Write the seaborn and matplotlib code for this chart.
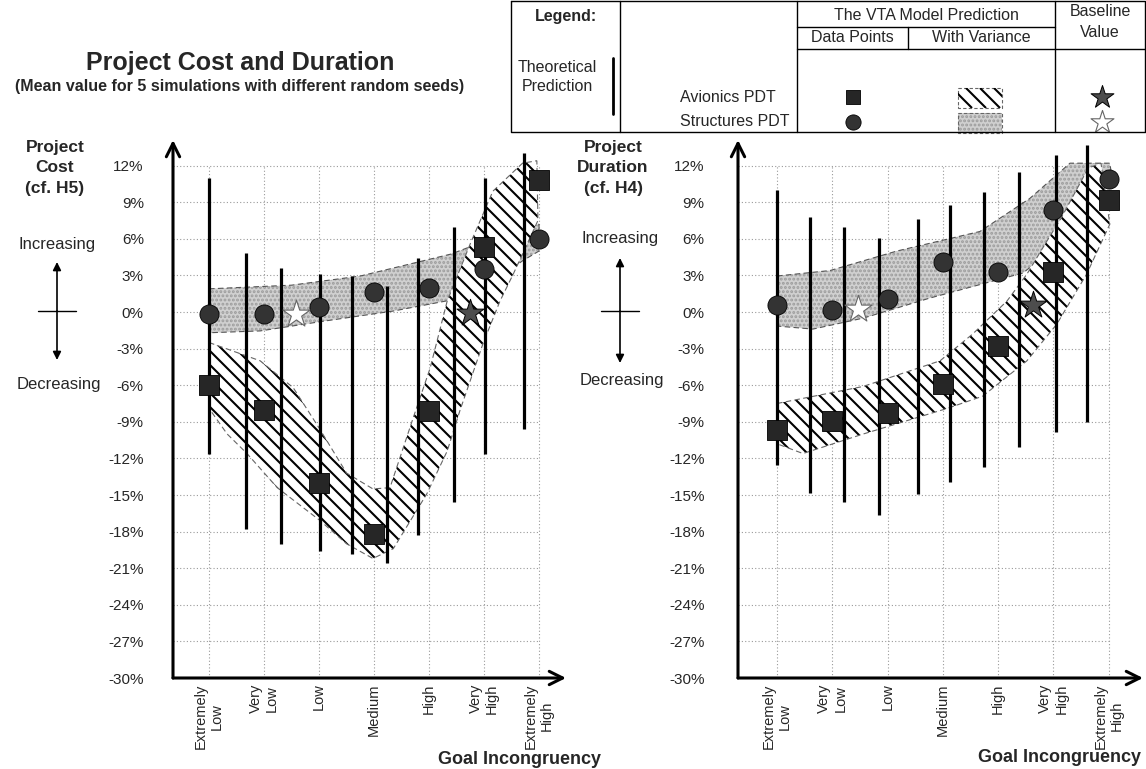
import numpy as np
import matplotlib
matplotlib.use('Agg')
import matplotlib.pyplot as plt
import seaborn as sns
from matplotlib.collections import LineCollection

W, H = 1146, 769

levels = ['Extremely\nLow', 'Very\nLow', 'Low', 'Medium', 'High', 'Very\nHigh', 'Extremely\nHigh']
level_pos = [0, 1, 2, 3, 4, 5, 6]
y_ticks = list(range(-30, 13, 3))

# ---- Project cost (cf. H5) ----
cost_avionics = [-6.0, -8.0, -14.0, -18.2, -8.1, 5.3, 10.8]
cost_structures = [-0.2, -0.2, 0.4, 1.6, 2.0, 3.5, 6.0]
cost_base_avionics = (4.75, -0.1)
cost_base_structures = (1.58, -0.2)

cost_theory_x = [0, 0.67, 1.31, 2.02, 2.6, 3.24, 3.8, 4.45, 5.02, 5.73]
cost_theory_top = [11.0, 4.8, 3.6, 3.1, 2.95, 2.1, 4.4, 7.0, 11.0, 13.0]
cost_theory_bottom = [-11.6, -17.8, -19.0, -19.6, -19.8, -20.6, -18.3, -15.6, -11.6, -9.6]

cost_av_up_x = [0, 0.93, 1.53, 2.0, 2.5, 2.98, 3.29, 3.71, 4.02, 4.33, 4.75, 5.16, 5.7, 5.96]
cost_av_up_y = [-2.5, -4.0, -6.2, -9.5, -13.2, -14.5, -14.4, -8.7, -4.6, 0.9, 5.6, 9.9, 12.2, 12.4]
cost_av_lo_x = [0, 0.33, 0.69, 1.24, 2.02, 2.5, 2.98, 3.35, 3.96, 4.33, 4.56, 4.98, 5.29, 5.53, 5.98]
cost_av_lo_y = [-7.9, -10.0, -11.6, -14.4, -17.1, -19.0, -20.2, -19.4, -14.9, -11.4, -8.1, -2.6, 0.9, 3.1, 7.5]

cost_st_up_x = [0, 1.5, 2.75, 4.4, 5.3, 6.0]
cost_st_up_y = [1.9, 2.2, 2.95, 4.75, 6.3, 7.2]
cost_st_lo_x = [0, 0.93, 2.1, 3.35, 4.4, 5.2, 5.7, 6.0]
cost_st_lo_y = [-1.7, -1.55, -0.74, 0.08, 0.98, 2.5, 4.2, 5.0]

# ---- Project duration (cf. H4) ----
dur_avionics = [-9.7, -8.9, -8.3, -5.9, -2.8, 3.3, 9.2]
dur_structures = [0.6, 0.2, 1.1, 4.1, 3.3, 8.4, 10.9]
dur_base_avionics = (4.63, 0.6)
dur_base_structures = (1.46, 0.25)

dur_theory_x = [0, 0.6, 1.21, 1.84, 2.55, 3.13, 3.74, 4.37, 5.04, 5.6]
dur_theory_top = [10.0, 7.8, 7.0, 6.1, 7.6, 8.8, 9.8, 11.5, 12.9, 13.7]
dur_theory_bottom = [-12.5, -14.8, -15.6, -16.6, -14.9, -13.9, -12.7, -11.1, -9.8, -9.0]

dur_av_up_x = [0, 1.56, 2.95, 3.54, 4.16, 4.52, 4.88, 5.14, 5.63, 5.86]
dur_av_up_y = [-7.5, -6.1, -4.0, -1.8, 0.9, 3.1, 5.8, 7.7, 11.8, 12.2]
dur_av_lo_x = [0, 0.47, 1.56, 3.08, 3.72, 4.52, 5.06, 5.6, 6.02]
dur_av_lo_y = [-10.8, -11.6, -10.0, -7.9, -6.9, -4.0, -1.0, 3.1, 7.2]

dur_st_up_x = [0, 0.96, 2.17, 3.67, 4.57, 5.3, 6.02]
dur_st_up_y = [2.95, 3.4, 5.0, 6.6, 9.3, 12.2, 12.2]
dur_st_lo_x = [0, 0.65, 1.56, 2.77, 4.45, 5.17, 5.78, 6.05]
dur_st_lo_y = [-1.15, -1.4, -0.5, 1.15, 3.2, 5.8, 9.7, 11.3]

sns.set_theme(style='white')
plt.rcParams['font.family'] = ['Liberation Sans', 'DejaVu Sans']
plt.rcParams['hatch.linewidth'] = 1.4

GRID = '#9a9a9a'
SQ = '#262626'
CI = '#333333'
STIPPLE = '#d0d0d0'
HATCH_STEP = 14  # pixels between hatch lines


def band(ax, ux, uy, lx, ly, **kw):
    xs = np.r_[ux, lx[::-1]]
    ys = np.r_[uy, ly[::-1]]
    return ax.fill(xs, ys, **kw)


def diag_hatch(ax, patch, step_px, lw=1.5, zorder=2.2):
    # "\" lines drawn in axes fraction, clipped to the band
    pos = ax.get_position()
    wpx, hpx = pos.width * W, pos.height * H
    r = wpx / hpx
    segs = [[(0, c), (1, c - r)] for c in np.arange(0, 1 + r, step_px / hpx)]
    lc = LineCollection(segs, transform=ax.transAxes, colors='black', linewidths=lw, zorder=zorder)
    ax.add_collection(lc, autolim=False)
    lc.set_clip_path(patch)


def draw_panel(ax, xlim, th_x, th_top, th_bot, av, st, av_band, st_band, base_av, base_st, pad):
    ax.set_xlim(*xlim)
    ax.set_ylim(-30, 14.1)
    for s in ax.spines.values():
        s.set_visible(False)

    # dotted grid, only over the category range
    ax.hlines(y_ticks, xlim[0], 6, colors=GRID, linestyles=(0, (1, 2)), linewidth=0.8, zorder=0)
    ax.vlines(level_pos, -30, 12, colors=GRID, linestyles=(0, (1, 2)), linewidth=0.8, zorder=0)

    # variance bands
    band(ax, *st_band, facecolor=STIPPLE, edgecolor='#9c9c9c', hatch='....', linewidth=0, zorder=1)
    band(ax, *st_band, fill=False, edgecolor='#555555', linestyle=(0, (5, 3)), linewidth=0.8, zorder=1.5)
    patch = band(ax, *av_band, facecolor='white', linewidth=0, zorder=2)[0]
    diag_hatch(ax, patch, HATCH_STEP)
    band(ax, *av_band, fill=False, edgecolor='#666666', linestyle=(0, (5, 3)), linewidth=0.8, zorder=2.5)

    # theoretical prediction ranges
    ax.vlines(th_x, th_bot, th_top, colors='black', linewidth=2.3, zorder=3)

    # VTA model data points
    sns.scatterplot(x=level_pos, y=av, marker='s', s=190, color=SQ, edgecolor='black',
                    linewidth=0.6, ax=ax, zorder=5, legend=False)
    sns.scatterplot(x=level_pos, y=st, marker='o', s=190, color=CI, edgecolor='black',
                    linewidth=0.6, ax=ax, zorder=5, legend=False)

    # baseline values
    ax.scatter([base_av[0]], [base_av[1]], marker='*', s=420, color='#4d4d4d',
               edgecolor='black', linewidth=0.7, zorder=6)
    ax.scatter([base_st[0]], [base_st[1]], marker='*', s=420, color='white',
               edgecolor='#666666', linewidth=0.8, zorder=6)

    ax.set_yticks(y_ticks)
    ax.set_yticklabels([f'{v}%' for v in y_ticks])
    ax.tick_params(axis='y', length=0, pad=pad, labelsize=11)
    ax.set_xticks(level_pos)
    ax.set_xticklabels(levels, rotation=90, fontsize=10.5, multialignment='center')
    ax.tick_params(axis='x', length=0, pad=4)
    ax.set_xlabel('')
    ax.set_ylabel('')

    arrow = dict(arrowstyle='->', lw=2.2, color='black', mutation_scale=24, shrinkA=0, shrinkB=0)
    ax.annotate('', xy=(0, 1), xytext=(0, 0), xycoords='axes fraction', arrowprops=arrow,
                annotation_clip=False)
    ax.annotate('', xy=(1, 0), xytext=(0, 0), xycoords='axes fraction', arrowprops=arrow,
                annotation_clip=False)


fig = plt.figure(figsize=(W / 100, H / 100), dpi=100)

# overlay in pixel coordinates for titles, side notes and legend table
ov = fig.add_axes([0, 0, 1, 1])
ov.set_xlim(0, W)
ov.set_ylim(H, 0)
ov.axis('off')

ax1 = fig.add_axes([173 / W, 1 - 678 / H, (566 - 173) / W, (678 - 140) / H])
ax2 = fig.add_axes([738 / W, 1 - 678 / H, (1143 - 738) / W, (678 - 140) / H])
for a in (ax1, ax2):
    a.patch.set_alpha(0)

draw_panel(ax1, (-0.655, 6.49), cost_theory_x, cost_theory_top, cost_theory_bottom,
           cost_avionics, cost_structures,
           (cost_av_up_x, cost_av_up_y, cost_av_lo_x, cost_av_lo_y),
           (cost_st_up_x, cost_st_up_y, cost_st_lo_x, cost_st_lo_y),
           cost_base_avionics, cost_base_structures, pad=21)
draw_panel(ax2, (-0.705, 6.62), dur_theory_x, dur_theory_top, dur_theory_bottom,
           dur_avionics, dur_structures,
           (dur_av_up_x, dur_av_up_y, dur_av_lo_x, dur_av_lo_y),
           (dur_st_up_x, dur_st_up_y, dur_st_lo_x, dur_st_lo_y),
           dur_base_avionics, dur_base_structures, pad=24)

# titles
ov.text(240, 63, 'Project Cost and Duration', ha='center', va='center', fontsize=18, weight='bold')
ov.text(240, 87, '(Mean value for 5 simulations with different random seeds)',
        ha='center', va='center', fontsize=11.5, weight='bold')

# axis captions
ov.text(55, 168, 'Project\nCost\n(cf. H5)', ha='center', va='center', fontsize=12.5,
        weight='bold', linespacing=1.45)
ov.text(613, 168, 'Project\nDuration\n(cf. H4)', ha='center', va='center', fontsize=12.5,
        weight='bold', linespacing=1.45)
ov.text(520, 759, 'Goal Incongruency', ha='center', va='center', fontsize=13, weight='bold')
ov.text(1059, 757, 'Goal Incongruency', ha='center', va='center', fontsize=13, weight='bold')

# increasing / decreasing markers
for cx, yi, yd, ya, yb in [(57, 245, 384, 262, 360), (620, 238, 380, 258, 363)]:
    ov.text(cx, yi, 'Increasing', ha='center', va='center', fontsize=12)
    ov.text(cx + 2, yd, 'Decreasing', ha='center', va='center', fontsize=12)
    for yend in (ya, yb):
        ov.annotate('', xy=(cx, yend), xytext=(cx, 311),
                    arrowprops=dict(arrowstyle='-|>', lw=1.2, color='black', mutation_scale=12,
                                    shrinkA=0, shrinkB=0))
    ov.plot([cx - 19, cx + 19], [311, 311], color='black', lw=1)

# legend table
lk = dict(color='black', lw=1)
ov.plot([511, 1145, 1145, 511, 511], [1, 1, 132, 132, 1], **lk)
for x in (620, 797, 1055):
    ov.plot([x, x], [1, 132], **lk)
ov.plot([908, 908], [27, 49], **lk)
ov.plot([797, 1055], [27, 27], **lk)
ov.plot([797, 1145], [49, 49], **lk)

fs = 11.5
ov.text(566, 16, 'Legend:', ha='center', va='center', fontsize=fs, weight='bold')
ov.text(557, 77, 'Theoretical\nPrediction', ha='center', va='center', fontsize=fs, linespacing=1.4)
ov.plot([613, 613], [58, 114], color='black', lw=2)
ov.text(680, 97, 'Avionics PDT', ha='left', va='center', fontsize=fs)
ov.text(680, 122, 'Structures PDT', ha='left', va='center', fontsize=fs)
ov.text(926, 15, 'The VTA Model Prediction', ha='center', va='center', fontsize=fs)
ov.text(852, 38, 'Data Points', ha='center', va='center', fontsize=fs)
ov.text(981, 38, 'With Variance', ha='center', va='center', fontsize=fs)
ov.text(1100, 22, 'Baseline\nValue', ha='center', va='center', fontsize=fs, linespacing=1.5)

ov.scatter([853], [97], marker='s', s=110, color=SQ, edgecolor='black', linewidth=0.6)
ov.scatter([853], [122], marker='o', s=120, color=CI, edgecolor='black', linewidth=0.6)
rect = plt.Polygon([(958, 88), (1002, 88), (1002, 108), (958, 108)], closed=True,
                   facecolor='white', linewidth=0)
ov.add_patch(rect)
lsegs = [[(958 + k - 20, 88), (958 + k, 108)] for k in range(0, 70, HATCH_STEP)]
lgh = LineCollection(lsegs, colors='black', linewidths=1.5)
ov.add_collection(lgh, autolim=False)
lgh.set_clip_path(rect)
ov.add_patch(plt.Rectangle((958, 88), 44, 20, fill=False, edgecolor='#666666', linewidth=0.8,
                           linestyle=(0, (3, 2))))
ov.add_patch(plt.Rectangle((958, 113), 44, 20, facecolor=STIPPLE, edgecolor='#9c9c9c',
                           hatch='....', linewidth=0))
ov.add_patch(plt.Rectangle((958, 113), 44, 20, fill=False, edgecolor='#666666', linewidth=0.8,
                           linestyle=(0, (3, 2))))
ov.scatter([1102], [97], marker='*', s=300, color='#4d4d4d', edgecolor='black', linewidth=0.7)
ov.scatter([1102], [122], marker='*', s=300, color='white', edgecolor='#666666', linewidth=0.8)

fig.savefig('out.png', dpi=100)
